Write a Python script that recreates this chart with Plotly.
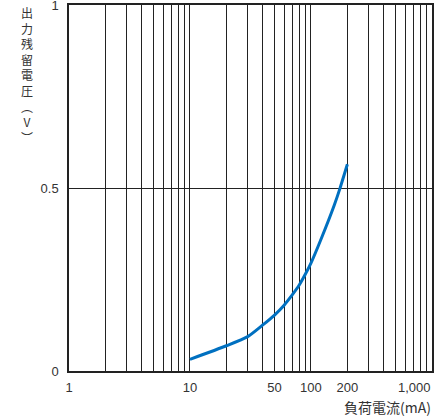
import plotly.graph_objects as go

# Data
load_current_mA = [10, 20, 30, 40, 50, 60, 70, 80, 90, 100, 122, 156, 174, 200]
residual_voltage_V = [0.032, 0.069, 0.094, 0.126, 0.153, 0.180, 0.208, 0.235,
                      0.265, 0.295, 0.363, 0.454, 0.50, 0.565]

x_tick_vals = [1, 10, 50, 100, 200, 1000]
x_tick_text = ["1", "10", "50", "100", "200", ""]
x_last_tick_text = "1,000"  # drawn right-aligned at the axis end, as in the reference
y_tick_vals = [0, 0.5, 1]
y_tick_text = ["0", "0.5", "1"]
y_title = "出力残留電圧︵V︶"
x_title = "負荷電流(mA)"

font_family = "Liberation Sans, Arial, Noto Sans CJK JP, sans-serif"
cjk_family = "Noto Sans CJK JP, sans-serif"
text_color = "#333333"

fig = go.Figure()
fig.add_trace(go.Scatter(
    x=load_current_mA, y=residual_voltage_V, mode="lines",
    line=dict(color="#0070C0", width=3, shape="spline", smoothing=0.6),
    showlegend=False, hoverinfo="skip",
))
# invisible trace on the overlay axis to activate it
fig.add_trace(go.Scatter(x=[1, 1000], y=[0, 0], xaxis="x2", mode="markers",
                         marker=dict(opacity=0), showlegend=False, hoverinfo="skip"))

fig.update_layout(
    width=443, height=419,
    margin=dict(l=69, r=11, t=5, b=48, autoexpand=False),
    paper_bgcolor="white", plot_bgcolor="white",
    font=dict(family=font_family, size=13, color=text_color),
    xaxis=dict(
        type="log", range=[0, 3.0005], automargin=False,
        tickvals=x_tick_vals, ticktext=x_tick_text,
        showgrid=False, zeroline=False,
        showline=True, linecolor="#222222", linewidth=1.5, mirror=True,
        ticks="", ticklabelstandoff=4, ticklabeloverflow="allow",
        tickfont=dict(size=13, color=text_color),
    ),
    xaxis2=dict(
        type="log", range=[0, 3.0005], overlaying="x", dtick="D1", automargin=False,
        showticklabels=False, showgrid=True, gridcolor="#222222", gridwidth=1,
        zeroline=False, showline=False, ticks="",
    ),
    yaxis=dict(
        range=[0, 1.0005], tickvals=y_tick_vals, ticktext=y_tick_text, automargin=False,
        showgrid=True, gridcolor="#222222", gridwidth=1, zeroline=False,
        showline=True, linecolor="#222222", linewidth=1.5, mirror=True,
        ticks="", ticklabelstandoff=6, ticklabeloverflow="allow",
        tickfont=dict(size=13, color=text_color),
    ),
)

fig.add_annotation(
    text=x_last_tick_text, xref="x", yref="paper",
    x=3, y=-0.044, xanchor="right", yanchor="middle", showarrow=False,
    borderpad=0, font=dict(size=13, color=text_color, family=font_family),
)

# vertical y-axis title, one upright character per line
fig.add_annotation(
    text="<br>".join(list(y_title)), xref="paper", yref="paper",
    x=-0.115, y=1.0 + 2 / 366, xanchor="center", yanchor="top",
    showarrow=False, align="center", borderpad=0,
    font=dict(size=12, color=text_color, family=cjk_family),
)
fig.add_annotation(
    text=x_title, xref="paper", yref="paper",
    x=1.0, y=-0.068, xanchor="right", yanchor="top", showarrow=False,
    borderpad=0, font=dict(size=14, color=text_color, family=cjk_family),
)

fig.write_html("out.html", config={"displayModeBar": False},
               post_script="document.body.style.margin='0';")
